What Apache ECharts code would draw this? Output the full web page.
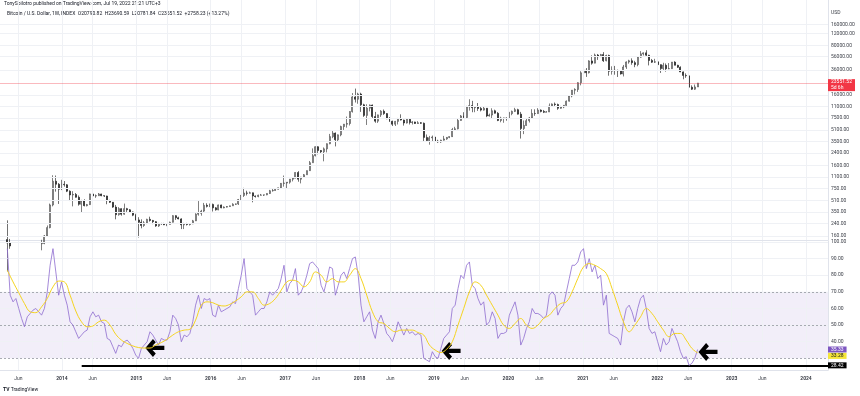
<!DOCTYPE html>
<html>
<head>
<meta charset="utf-8">
<title>Bitcoin / U.S. Dollar 1W with RSI</title>
<script src="https://cdn.jsdelivr.net/npm/echarts@6/dist/echarts.min.js"></script>
<style>
html, body { margin: 0; padding: 0; background: #fff; }
#chart { width: 860px; height: 396px; }
</style>
</head>
<body>
<div id="chart"></div>
<script>
// two-week candles, starting 2013-04-08
const DAY = 86400000;
const startDate = Date.UTC(2013, 3, 8);
const stepDays = 14;
const firstOpen = 142;

const closes = [
  127, 115, 122, 122, 100, 94, 97, 96, 105, 118, 123, 124, 125, 160, 210, 440, 955, 865, 735, 865, // 2013
  850, 690, 610, 620, 565, 450, 500, 430, 445, 630, 590, 595, 630, 595, 590, 505, 480, 410, 320, 390, 325, 390, 375, 350, 315, 270, // 2014
  250, 225, 245, 275, 265, 255, 222, 240, 237, 230, 233, 250, 310, 290, 279, 230, 240, 232, 238, 262, 325, 335, 360, 435, 420, 448, // 2015
  400, 375, 440, 400, 410, 418, 428, 450, 455, 525, 600, 650, 645, 655, 590, 580, 605, 608, 612, 640, 700, 705, 735, 770, 890, 900, // 2016
  925, 1020, 1055, 1270, 1020, 1090, 1180, 1350, 1750, 2200, 2950, 2600, 2500, 2750, 3250, 4100, 4600, 3700, 4350, 5700, 6150, 6300, 9300, 15000, 13900, 16500, // 2017
  11600, 8200, 10400, 11500, 7900, 6800, 8350, 9400, 8700, 7350, 6780, 6150, 6750, 7400, 7050, 6400, 7250, 6500, 6620, 6300, 6450, 6350, 4000, 3600, 3950, 4050, // 2018
  3550, 3450, 3650, 3800, 4000, 4100, 5150, 5300, 6950, 8050, 7650, 10850, 11300, 10550, 10900, 10300, 9750, 10350, 8050, 8300, 9550, 8800, 6950, 7500, 7510, 7400, // 2019
  8700, 9350, 9900, 8550, 5350, 5900, 6900, 7550, 8750, 8700, 9750, 9350, 9100, 9200, 11100, 11900, 11700, 10350, 10800, 11400, 13050, 15500, 18700, 19150, 23900, 33000, // 2020
  35800, 33100, 48600, 45200, 59000, 55800, 59800, 49000, 58200, 34700, 35800, 35600, 35300, 31800, 39900, 47000, 48900, 46000, 43200, 55000, 61300, 63300, 58600, 49400, 46700, 47300, // 2021
  43100, 37900, 42200, 37700, 37800, 46800, 42200, 39500, 34000, 30300, 29900, 20600, 19300, 20790.82, 23551.52 // 2022
];
const highs = [
  266, 145, 125, 135, 124, 110, 99, 98, 107, 123, 135, 135, 141, 165, 225, 460, 1160, 1150, 900, 1000,
  960, 870, 710, 690, 650, 600, 520, 530, 455, 635, 680, 620, 650, 635, 600, 595, 520, 485, 440, 410, 395, 460, 400, 385, 355, 330,
  295, 275, 260, 280, 300, 270, 260, 245, 245, 245, 235, 255, 315, 315, 300, 285, 245, 245, 240, 270, 335, 500, 375, 470, 465, 460,
  460, 410, 445, 445, 420, 425, 430, 465, 460, 535, 610, 770, 700, 680, 660, 600, 615, 630, 615, 645, 720, 745, 755, 775, 900, 1150,
  930, 1025, 1060, 1280, 1330, 1100, 1210, 1355, 1850, 2790, 2990, 3000, 2650, 2880, 3290, 4480, 4980, 4700, 4400, 5860, 6200, 7900, 9400, 17000, 19700, 17200,
  17200, 12000, 11800, 11700, 11700, 9200, 8400, 9750, 9950, 8850, 7780, 6900, 6850, 7550, 8500, 7150, 7300, 7400, 6800, 6680, 6800, 6600, 6500, 4400, 4200, 4250,
  4100, 3700, 3700, 4200, 4050, 4150, 5450, 5650, 7500, 8300, 9100, 11200, 13900, 13200, 11000, 12300, 10950, 10900, 10450, 8700, 10350, 9900, 9150, 7850, 7600, 7700,
  9200, 9600, 10500, 10200, 9200, 6950, 7450, 7800, 10050, 10000, 10400, 10000, 9800, 9450, 12100, 12100, 12500, 12050, 11200, 11500, 13350, 15950, 18800, 19900, 24250, 34800,
  41950, 38500, 49700, 58350, 61800, 61000, 61200, 64850, 59500, 59600, 40800, 41300, 36600, 35400, 42600, 47900, 50500, 52900, 48800, 56500, 67000, 64300, 69000, 59400, 51900, 52100,
  47500, 43500, 45800, 44800, 45400, 46900, 48200, 42900, 40800, 34500, 32400, 31700, 21900, 22500, 23690.59
];
const lows = [
  50, 105, 107, 118, 95, 88, 65, 86, 92, 96, 115, 122, 100, 122, 158, 205, 420, 680, 455, 715,
  800, 670, 500, 420, 560, 430, 340, 420, 420, 440, 560, 555, 590, 585, 570, 450, 470, 400, 275, 310, 310, 320, 350, 340, 305, 265,
  152, 205, 215, 235, 255, 235, 215, 215, 230, 228, 220, 232, 248, 270, 275, 200, 200, 225, 225, 235, 260, 310, 310, 350, 405, 410,
  355, 365, 370, 395, 395, 405, 415, 425, 440, 440, 520, 570, 600, 640, 480, 560, 565, 600, 590, 605, 630, 680, 700, 725, 765, 800,
  750, 880, 950, 1050, 940, 890, 1070, 1175, 1340, 1740, 2150, 2300, 2350, 1830, 2450, 3200, 3900, 2980, 3550, 4150, 5100, 5500, 5900, 9000, 12500, 12000,
  9200, 7800, 6000, 9350, 7300, 6450, 6420, 7800, 8350, 7250, 6650, 5800, 5800, 6100, 6950, 5880, 6300, 6100, 6100, 6200, 6250, 6200, 3500, 3450, 3150, 3550,
  3500, 3350, 3350, 3600, 3700, 3900, 4050, 5000, 5200, 6900, 7450, 7550, 9600, 9100, 9100, 9500, 9350, 9600, 7750, 7900, 7300, 8700, 6800, 6550, 6450, 6900,
  7350, 8250, 9150, 8450, 3850, 4450, 5850, 6500, 7500, 8100, 8650, 9050, 8850, 9050, 9150, 10950, 11100, 9850, 10200, 10400, 11200, 12900, 14800, 16300, 17650, 21900,
  27700, 28850, 32300, 43000, 44900, 50300, 55400, 47000, 48000, 30000, 31100, 31000, 28800, 31100, 29300, 37400, 44400, 42900, 39600, 40800, 53900, 58000, 55700, 42000, 45500, 45500,
  39700, 32900, 36200, 34300, 37200, 37600, 42100, 38600, 33700, 26700, 28000, 17600, 18800, 18900, 20781.84
];

// RSI (14) on the same two-week steps
const rsiValues = [
  96, 68, 64, 66, 60, 54, 49, 55, 57, 59, 60, 58, 56, 60, 70, 86, 96, 82, 68, 76,
  68, 62, 52, 50, 46, 42, 44, 46, 47, 55, 58, 55, 56, 52, 51, 42, 41, 37, 33, 38, 37, 40, 41, 39, 36, 32,
  30, 36, 38, 40, 46, 44, 41, 38, 42, 41, 41, 46, 56, 54, 50, 40, 44, 43, 45, 52, 62, 68, 60, 66, 65, 66,
  56, 55, 62, 58, 59, 60, 61, 64, 63, 72, 80, 90, 72, 70, 68, 56, 58, 60, 60, 64, 70, 68, 70, 72, 78, 86,
  70, 75, 77, 84, 68, 70, 74, 80, 87, 88, 86, 84, 74, 70, 77, 85, 84, 68, 74, 80, 82, 78, 84, 90, 91, 80,
  62, 52, 55, 58, 47, 42, 52, 56, 51, 45, 43, 40, 45, 52, 48, 44, 48, 45, 46, 44, 45, 44, 30, 29, 28, 34,
  31, 30, 36, 42, 44, 46, 60, 62, 72, 80, 78, 86, 88, 74, 72, 66, 62, 64, 50, 52, 58, 54, 42, 45, 45, 46,
  56, 60, 64, 56, 38, 42, 48, 52, 60, 57, 57, 56, 54, 56, 68, 70, 68, 56, 60, 62, 70, 78, 86, 86, 88, 94,
  96, 84, 90, 82, 86, 78, 80, 62, 68, 45, 44, 43, 42, 38, 52, 60, 62, 58, 52, 60, 66, 68, 60, 48, 45, 46,
  40, 34, 42, 38, 40, 48, 44, 40, 34, 30, 31, 25.8, 27, 30, 35.33
];

// RSI-based moving average, read every four weeks
const maStepDays = 28;
const rsiMaValues = [
  83, 76, 69.5, 63, 58, 57.5, 61, 66, 73, 76.5,
  76, 68, 58.5, 52, 49, 49.5, 52, 53, 50, 44.5, 41, 39, 37.5,
  36.5, 36.2, 36.2, 38, 39.5, 41.5, 44, 46, 47, 47.5, 53, 62, 64,
  63.5, 62, 61.5, 62.5, 64.5, 67, 70, 70, 66, 62, 63, 66, 71,
  76, 77, 76, 73, 76, 82, 80, 76, 78, 76, 76, 80, 84,
  78, 68, 58, 52, 51, 48, 46, 47, 47, 47, 45.5, 44, 38,
  35, 33.5, 35.5, 40, 50, 60, 70, 76, 74, 68, 62, 56, 50,
  48, 51, 54, 50, 48, 50, 54, 56, 60, 63, 64, 70, 78,
  85, 87, 86, 84, 81, 72, 62, 52, 46, 50, 55, 60, 57,
  52, 47, 43, 45, 45, 41, 36, 33.28
];

const priceTicks = [160000, 120000, 80000, 56000, 36000, 16000, 11000, 7500, 5100, 3500, 2400, 1600, 1100, 750, 510, 350, 240, 160];
const rsiTicks = [100, 90, 80, 70, 60, 50, 40];
const rsiLevels = [70, 50, 30];
const xTickDates = ['2013-06-01', '2014-01-01', '2014-06-01', '2015-01-01', '2015-06-01', '2016-01-01', '2016-06-01',
  '2017-01-01', '2017-06-01', '2018-01-01', '2018-06-01', '2019-01-01', '2019-06-01', '2020-01-01', '2020-06-01',
  '2021-01-01', '2021-06-01', '2022-01-01', '2022-06-01', '2023-01-01', '2023-06-01', '2024-01-01'];
const xTickLabels = ['Jun', '2014', 'Jun', '2015', 'Jun', '2016', 'Jun', '2017', 'Jun', '2018', 'Jun', '2019', 'Jun',
  '2020', 'Jun', '2021', 'Jun', '2022', 'Jun', '2023', 'Jun', '2024'];

const lastPrice = 23551.52;
const countdown = '5d 6h';
const lastRsi = 35.33;
const lastRsiMa = 33.28;
const supportLevel = 25.8;
const supportLabel = '28.42';
const supportStart = '2014-04-08';
const arrowPoints = [['2015-04-02', 36.3], ['2019-03-26', 34.5], ['2022-09-07', 33.9]];

const xMin = Date.UTC(2013, 2, 3);
const xMax = Date.UTC(2024, 3, 18);

const candleData = closes.map((c, i) => [startDate + i * stepDays * DAY, i === 0 ? firstOpen : closes[i - 1], c, lows[i], highs[i]]);
const rsiData = rsiValues.map((v, i) => [startDate + i * stepDays * DAY, v]);
const maData = rsiMaValues.map((v, i) => [startDate + i * maStepDays * DAY, v]);

const FONT = 'Roboto';
const labelStyle = { fontSize: 5, color: '#3d4049', fontFamily: FONT };
const gridLine = { color: '#eff1f5', width: 1, type: 'solid' };
const hiddenLine = { color: 'rgba(0,0,0,0)', width: 0 };
const arrowPath = 'path://M0,9 L8,1 L11,4 L7.5,7.2 L20,7.2 L20,10.8 L7.5,10.8 L11,14 L8,17 Z';

const chart = echarts.init(document.getElementById('chart'));

chart.setOption({
  animation: false,
  backgroundColor: '#ffffff',
  grid: [
    { left: 0, right: 32, top: 0, height: 240 },
    { left: 0, right: 32, top: 241, height: 129 }
  ],
  xAxis: [
    { type: 'time', gridIndex: 0, min: xMin, max: xMax, axisLabel: { show: false }, axisTick: { show: false },
      splitLine: { show: false }, axisLine: { show: true, lineStyle: { color: '#e0e3eb' } } },
    { type: 'time', gridIndex: 1, min: xMin, max: xMax, axisLabel: { show: false }, axisTick: { show: false },
      splitLine: { show: false }, axisLine: { show: true, lineStyle: { color: '#e0e3eb' } } }
  ],
  yAxis: [
    { type: 'log', logBase: 10, gridIndex: 0, min: 140, max: 356000, position: 'right',
      axisLabel: { show: false }, axisTick: { show: false }, splitLine: { show: false },
      axisLine: { show: true, lineStyle: { color: '#e0e3eb' } } },
    { type: 'value', gridIndex: 1, min: 23, max: 100.6, position: 'right',
      axisLabel: { show: false }, axisTick: { show: false }, splitLine: { show: false },
      axisLine: { show: true, lineStyle: { color: '#e0e3eb' } } }
  ],
  series: [
    {
      // price pane grid and scale
      type: 'line', xAxisIndex: 0, yAxisIndex: 0, data: [], z: 1, silent: true, clip: false,
      markLine: {
        symbol: 'none', silent: true, animation: false,
        lineStyle: gridLine,
        label: Object.assign({ position: 'end', distance: 3 }, labelStyle),
        data: priceTicks.map(v => ({ yAxis: v, label: { formatter: v.toFixed(2) } }))
          .concat(xTickDates.map(d => ({ xAxis: Date.parse(d), label: { show: false } })))
      }
    },
    {
      name: 'BTCUSD', type: 'candlestick', xAxisIndex: 0, yAxisIndex: 0, z: 2,
      clip: true,
      barWidth: 1.5,
      data: candleData,
      itemStyle: { color: '#ffffff', borderColor: '#2a2a2a', color0: '#111111', borderColor0: '#111111', borderWidth: 0.6 },
      markLine: {
        symbol: 'none', silent: true, animation: false,
        data: [{
          yAxis: lastPrice,
          lineStyle: { color: 'rgba(242,54,69,0.35)', type: 'solid', width: 1 },
          label: {
            position: 'end', distance: 0, formatter: lastPrice.toFixed(2) + '\n' + countdown,
            fontSize: 5, lineHeight: 6, color: '#ffffff', fontFamily: FONT,
            backgroundColor: '#f23645', padding: [0, 3, 0, 3], offset: [0, 2]
          }
        }]
      }
    },
    {
      // white RSI pane background, hides candle wicks that run below the price pane
      type: 'line', xAxisIndex: 1, yAxisIndex: 1, data: [], z: 3, silent: true,
      markArea: {
        silent: true,
        itemStyle: { color: '#ffffff' },
        data: [[{ yAxis: 23 }, { yAxis: 100.6 }]]
      }
    },
    {
      // RSI pane grid, band and scale
      type: 'line', xAxisIndex: 1, yAxisIndex: 1, data: [], z: 4, silent: true, clip: false,
      markArea: {
        silent: true,
        itemStyle: { color: 'rgba(126,87,194,0.1)' },
        data: [[{ yAxis: rsiLevels[2] }, { yAxis: rsiLevels[0] }]]
      },
      markLine: {
        symbol: 'none', silent: true, animation: false,
        lineStyle: gridLine,
        label: Object.assign({ position: 'end', distance: 3 }, labelStyle),
        data: rsiTicks.map(v => ({ yAxis: v, label: { formatter: v.toFixed(2) } }))
          .concat(rsiLevels.map(v => ({ yAxis: v, label: { show: false },
            lineStyle: { color: '#9598a1', type: [2, 2], width: 0.8 } })))
          .concat(xTickDates.map((d, i) => ({
            xAxis: Date.parse(d),
            label: {
              position: 'start', distance: 6, formatter: xTickLabels[i],
              fontWeight: xTickLabels[i] === 'Jun' ? 'normal' : 'bold'
            }
          })))
      }
    },
    {
      name: 'RSI', type: 'line', xAxisIndex: 1, yAxisIndex: 1, z: 5,
      data: rsiData, symbol: 'none',
      lineStyle: { color: '#8e6ccf', width: 0.8 },
      markPoint: {
        silent: true, animation: false,
        symbol: arrowPath, symbolSize: [19, 18],
        itemStyle: { color: '#000000' },
        label: { show: false },
        data: arrowPoints.map(p => ({ coord: [Date.parse(p[0]), p[1]] }))
      },
      markLine: {
        symbol: 'none', silent: true, animation: false,
        lineStyle: hiddenLine,
        data: [{
          yAxis: lastRsi,
          label: { position: 'end', distance: 0, formatter: lastRsi.toFixed(2), fontSize: 5, color: '#ffffff',
            fontFamily: FONT, backgroundColor: '#7e57c2', padding: [1, 3, 0, 3] }
        }]
      }
    },
    {
      name: 'RSI-based MA', type: 'line', xAxisIndex: 1, yAxisIndex: 1, z: 6,
      data: maData, symbol: 'none', smooth: 0.4,
      lineStyle: { color: '#f5d41f', width: 1 },
      markLine: {
        symbol: 'none', silent: true, animation: false,
        lineStyle: hiddenLine,
        data: [{
          yAxis: lastRsiMa,
          label: { position: 'end', distance: 0, formatter: lastRsiMa.toFixed(2), fontSize: 5, color: '#131722',
            fontFamily: FONT, backgroundColor: '#f5e63a', padding: [1, 3, 0, 3], offset: [0, 3] }
        }]
      }
    },
    {
      // horizontal support drawn on the RSI pane
      type: 'line', xAxisIndex: 1, yAxisIndex: 1, data: [], z: 7, silent: true, clip: false,
      markLine: {
        symbol: 'none', silent: true, animation: false,
        lineStyle: { color: '#000000', width: 2, type: 'solid' },
        data: [[
          { coord: [Date.parse(supportStart), supportLevel] },
          { coord: [xMax, supportLevel],
            label: { position: 'end', distance: 0, formatter: supportLabel, fontSize: 5, color: '#ffffff',
              fontFamily: FONT, backgroundColor: '#000000', padding: [1, 3, 0, 3] } }
        ]]
      }
    }
  ],
  graphic: [
    { type: 'text', left: 4, top: 1, style: { text: 'TonySpilotro published on TradingView.com, Jul 19, 2022 21:21 UTC+3',
      fontSize: 5, fill: '#131722', fontFamily: FONT } },
    { type: 'text', left: 7, top: 11, style: { text: 'Bitcoin / U.S. Dollar, 1W, INDEX  O20790.82  H23690.59  L20781.84  C23551.52  +2758.23 (+13.27%)',
      fontSize: 5, fill: '#131722', fontFamily: FONT } },
    { type: 'text', left: 831, top: 10, style: { text: 'USD', fontSize: 5, fill: '#3d4049', fontFamily: FONT } },
    { type: 'text', left: 3, top: 387, style: {
      text: '{logo|TV} TradingView',
      rich: {
        logo: { fontSize: 5, fontWeight: 'bold', fill: '#131722', fontFamily: FONT }
      },
      fontSize: 5, fill: '#131722', fontFamily: FONT } }
  ]
});
</script>
</body>
</html>
